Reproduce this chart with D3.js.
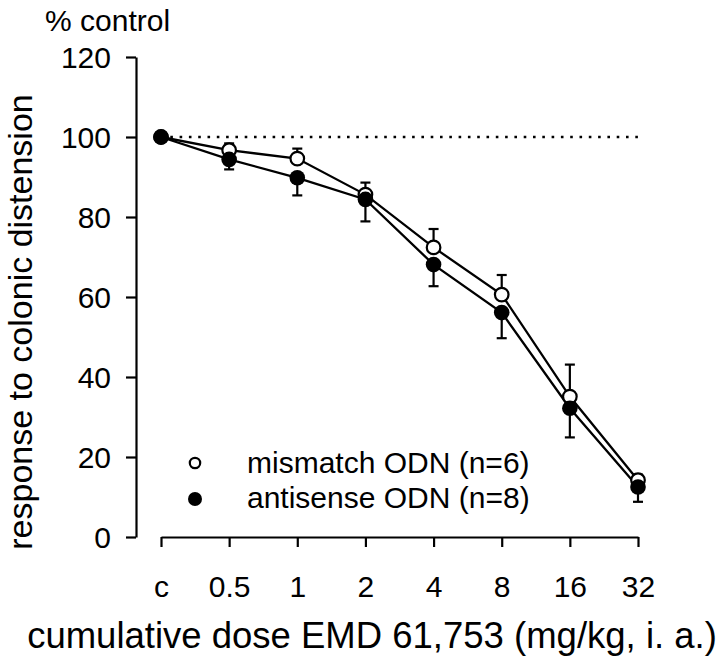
<!DOCTYPE html>
<html><head><meta charset="utf-8">
<script src="https://cdn.jsdelivr.net/npm/d3@7"></script>
<style>
html,body{margin:0;padding:0;background:#fff;}
svg{display:block;font-family:"Liberation Sans",Arial,Helvetica,sans-serif;}
</style></head>
<body><svg id="chart" width="720" height="662"></svg>
<script>
const doses = ["c","0.5","1","2","4","8","16","32"];
const mismatchMean = [100, 96.7, 94.6, 85.6, 72.4, 60.6, 35.1, 14.2];
const mismatchSE   = [0, 1.7, 2.5, 3.0, 4.6, 4.9, 8.0, 1.4];
const antisenseMean = [100, 94.4, 89.8, 84.4, 68.1, 56.1, 32.2, 12.5];
const antisenseSE   = [0, 2.5, 4.4, 5.5, 5.4, 6.4, 7.3, 3.7];
const yTicks = [0, 20, 40, 60, 80, 100, 120];
const seriesNames = ["mismatch ODN (n=6)", "antisense ODN (n=8)"];
const controlLevel = 100;

const svg = d3.select("#chart");
const x = d3.scalePoint().domain(doses).range([161, 638]);
const y = d3.scaleLinear().domain([0, 120]).range([537, 57]);
const FONT = "Liberation Sans, Arial, sans-serif";

// Y axis
const gy = svg.append("g").attr("transform","translate(136,0)")
  .call(d3.axisLeft(y).tickValues(yTicks).tickSize(10).tickSizeOuter(0));
gy.select(".domain").attr("stroke","#000").attr("stroke-width",2.2);
gy.selectAll(".tick line").attr("stroke","#000").attr("stroke-width",2.2);
gy.selectAll(".tick text").attr("x",-25).attr("dy","0.36em")
  .attr("font-size",30).attr("fill","#000").attr("font-family",FONT);

// X axis
const gx = svg.append("g").attr("transform","translate(0,537)")
  .call(d3.axisBottom(x).tickSize(10).tickSizeOuter(0));
gx.select(".domain").attr("stroke","#000").attr("stroke-width",2.2);
gx.selectAll(".tick line").attr("stroke","#000").attr("stroke-width",2.2);
gx.selectAll(".tick text").attr("y",60).attr("dy",0)
  .attr("font-size",30).attr("fill","#000").attr("font-family",FONT);

// control reference dotted line
svg.append("line")
  .attr("x1", x(doses[0])).attr("x2", x(doses[doses.length-1]))
  .attr("y1", y(controlLevel)).attr("y2", y(controlLevel))
  .attr("stroke","#000").attr("stroke-width",2.6)
  .attr("stroke-dasharray","2.6 6.7");

const line = d3.line().x((d,i)=>x(doses[i])).y(d=>y(d));

// lines
svg.append("path").datum(mismatchMean).attr("d",line)
  .attr("fill","none").attr("stroke","#000").attr("stroke-width",2.3);
svg.append("path").datum(antisenseMean).attr("d",line)
  .attr("fill","none").attr("stroke","#000").attr("stroke-width",2.3);

// error bars: mismatch upward, antisense downward
const cap = 5;
mismatchMean.forEach((m,i)=>{
  if (mismatchSE[i] <= 0) return;
  const cx = x(doses[i]);
  svg.append("line").attr("x1",cx).attr("x2",cx).attr("y1",y(m)).attr("y2",y(m+mismatchSE[i]))
    .attr("stroke","#000").attr("stroke-width",2.2);
  svg.append("line").attr("x1",cx-cap).attr("x2",cx+cap).attr("y1",y(m+mismatchSE[i])).attr("y2",y(m+mismatchSE[i]))
    .attr("stroke","#000").attr("stroke-width",2.2);
});
antisenseMean.forEach((m,i)=>{
  if (antisenseSE[i] <= 0) return;
  const cx = x(doses[i]);
  svg.append("line").attr("x1",cx).attr("x2",cx).attr("y1",y(m)).attr("y2",y(m-antisenseSE[i]))
    .attr("stroke","#000").attr("stroke-width",2.2);
  svg.append("line").attr("x1",cx-cap).attr("x2",cx+cap).attr("y1",y(m-antisenseSE[i])).attr("y2",y(m-antisenseSE[i]))
    .attr("stroke","#000").attr("stroke-width",2.2);
});

// markers
svg.append("g").selectAll("circle").data(mismatchMean).join("circle")
  .attr("cx",(d,i)=>x(doses[i])).attr("cy",d=>y(d)).attr("r",6.8)
  .attr("fill","#fff").attr("stroke","#000").attr("stroke-width",2.2);
svg.append("g").selectAll("circle").data(antisenseMean).join("circle")
  .attr("cx",(d,i)=>x(doses[i])).attr("cy",d=>y(d)).attr("r",7.8)
  .attr("fill","#000");

// legend
const leg = svg.append("g");
leg.append("circle").attr("cx",195).attr("cy",463).attr("r",5.2).attr("fill","#fff").attr("stroke","#000").attr("stroke-width",2.2);
leg.append("circle").attr("cx",195).attr("cy",499).attr("r",7).attr("fill","#000");
leg.append("text").attr("x",247).attr("y",473).attr("font-size",30).text(seriesNames[0]);
leg.append("text").attr("x",247).attr("y",508).attr("font-size",30).text(seriesNames[1]);

// titles
svg.append("text").attr("x",45).attr("y",31).attr("font-size",30).text("% control");
svg.append("text").attr("x",372).attr("y",648).attr("text-anchor","middle").attr("font-size",36.5)
  .text("cumulative dose EMD 61,753 (mg/kg, i. a.)");
svg.append("text").attr("transform","translate(32,322) rotate(-90)").attr("text-anchor","middle").attr("font-size",34)
  .text("response to colonic distension");
</script></body></html>
